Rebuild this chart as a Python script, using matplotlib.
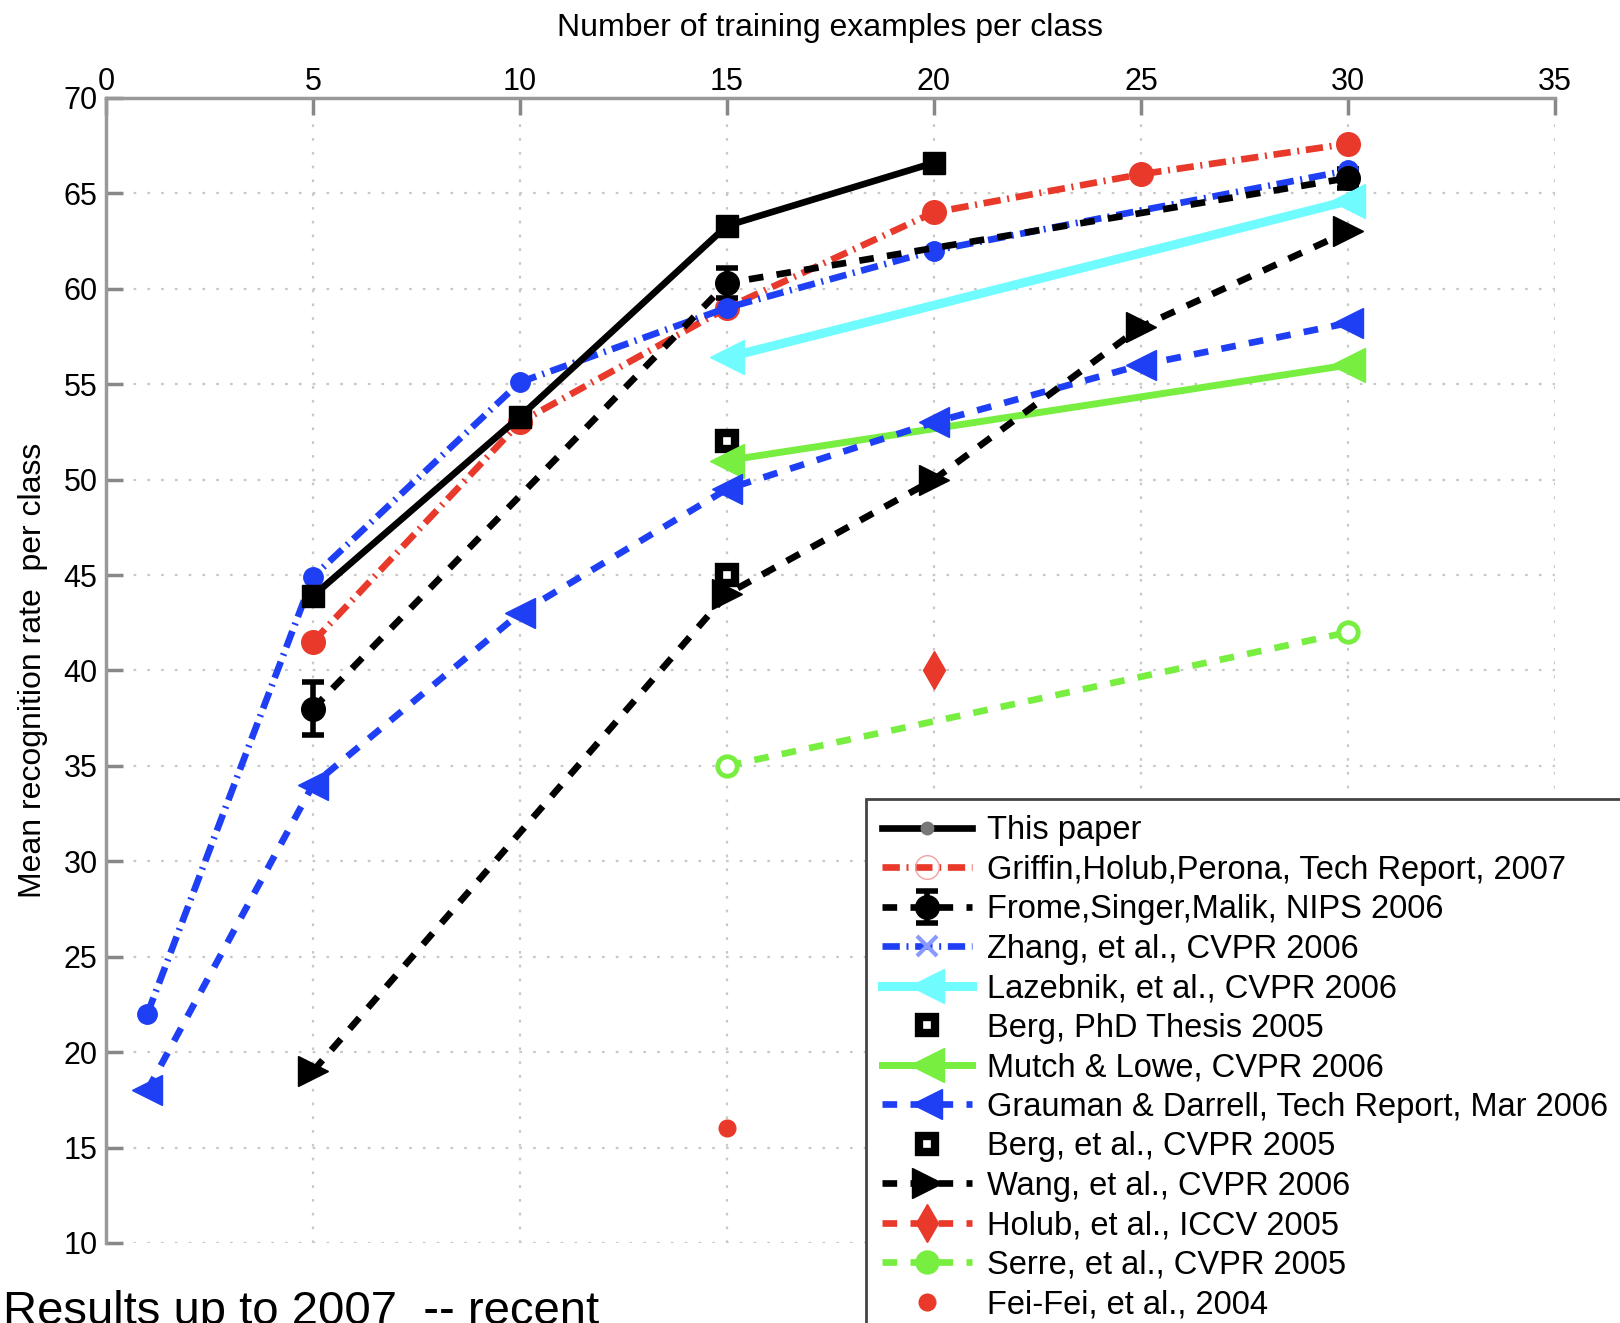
import matplotlib
matplotlib.use('Agg')
import matplotlib.pyplot as plt

plt.rcParams['font.family'] = ['Liberation Sans', 'DejaVu Sans']

# values (x = training examples per class, y = mean recognition rate)
this_x = [5, 10, 15, 20]
this_y = [43.9, 53.3, 63.3, 66.6]
griffin_x = [5, 10, 15, 20, 25, 30]
griffin_y = [41.5, 53.0, 59.0, 64.0, 66.0, 67.6]
frome_x = [5, 15, 30]
frome_y = [38.0, 60.3, 65.8]
frome_err = [1.4, 0.8, 0.5]
zhang_x = [1, 5, 10, 15, 20, 30]
zhang_y = [22.0, 44.9, 55.1, 59.0, 62.0, 66.2]
lazebnik_x = [15, 30]
lazebnik_y = [56.4, 64.6]
berg_phd_x = [15]
berg_phd_y = [52.0]
mutch_x = [15, 30]
mutch_y = [51.0, 56.0]
grauman_x = [1, 5, 10, 15, 20, 25, 30]
grauman_y = [18.0, 34.0, 43.0, 49.5, 53.0, 56.0, 58.2]
berg_cvpr_x = [15]
berg_cvpr_y = [45.0]
wang_x = [5, 15, 20, 25, 30]
wang_y = [19.0, 44.0, 50.0, 58.0, 63.0]
holub_x = [20]
holub_y = [40.0]
serre_x = [15, 30]
serre_y = [35.0, 42.0]
feifei_x = [15]
feifei_y = [16.0]

labels = ['This paper',
          'Griffin,Holub,Perona, Tech Report, 2007',
          'Frome,Singer,Malik, NIPS 2006',
          'Zhang, et al., CVPR 2006',
          'Lazebnik, et al., CVPR 2006',
          'Berg, PhD Thesis 2005',
          'Mutch & Lowe, CVPR 2006',
          'Grauman & Darrell, Tech Report, Mar 2006',
          'Berg, et al., CVPR 2005',
          'Wang, et al., CVPR 2006',
          'Holub, et al., ICCV 2005',
          'Serre, et al., CVPR 2005',
          'Fei-Fei, et al., 2004']

red = '#e8392a'
blue = '#1f3ff5'
cyan = '#70fbff'
green = '#78ee40'
dash = (2.2, 2.0)
dashdot = (2.6, 1.0, 0.3, 1.0)

fig = plt.figure(figsize=(16.2, 13.23), dpi=100)
ax = fig.add_axes([0.0654, 0.0605, 0.8944, 0.8655])

h = []
h.append(ax.plot(this_x, this_y, color='black', lw=4.8, marker='s', ms=16, zorder=5)[0])
h.append(ax.plot(griffin_x, griffin_y, color=red, lw=4.8, dashes=dashdot, marker='o', ms=17)[0])
eb = ax.errorbar(frome_x, frome_y, yerr=frome_err, color='black', lw=4.8, dashes=dash,
                 marker='o', ms=17, elinewidth=4, capsize=8, capthick=4)
eb[2][0].set_linestyle('-')
h.append(eb)
h.append(ax.plot(zhang_x, zhang_y, color=blue, lw=4.8, dashes=dashdot, marker='o', ms=14)[0])
h.append(ax.plot(lazebnik_x, lazebnik_y, color=cyan, lw=6.5, marker='<', ms=25)[0])
h.append(ax.plot(berg_phd_x, berg_phd_y, ls='none', marker='s', ms=11, mew=6,
                 mec='black', mfc='white')[0])
h.append(ax.plot(mutch_x, mutch_y, color=green, lw=5, marker='<', ms=24)[0])
h.append(ax.plot(grauman_x, grauman_y, color=blue, lw=4.8, dashes=dash, marker='<', ms=21)[0])
h.append(ax.plot(berg_cvpr_x, berg_cvpr_y, ls='none', marker='s', ms=11, mew=6,
                 mec='black', mfc='white')[0])
h.append(ax.plot(wang_x, wang_y, color='black', lw=4.8, dashes=dash, marker='>', ms=21)[0])
h.append(ax.plot(holub_x, holub_y, color=red, lw=4.8, dashes=dash, marker='d', ms=19)[0])
h.append(ax.plot(serre_x, serre_y, color=green, lw=4.8, dashes=dash, marker='o', ms=14,
                 mew=3.5, mfc='white')[0])
h.append(ax.plot(feifei_x, feifei_y, ls='none', color=red, marker='o', ms=12)[0])

ax.set_xlim(0, 35)
ax.set_ylim(10, 70)
ax.set_xticks(range(0, 36, 5))
ax.set_yticks(range(10, 71, 5))
ax.xaxis.tick_top()
ax.xaxis.set_label_position('top')
ax.set_xlabel('Number of training examples per class', fontsize=23, labelpad=22)
ax.set_ylabel('Mean recognition rate  per class', fontsize=23, labelpad=11)
ax.tick_params(axis='both', direction='in', length=12, width=2.5, color='#888888',
               labelsize=22)
ax.tick_params(axis='x', pad=1)
ax.tick_params(axis='y', pad=6)
ax.grid(True, color='#c8c8c8', lw=1.6, ls=(0, (1.2, 5)))
ax.set_axisbelow(True)
for side in ['right', 'bottom']:
    ax.spines[side].set_visible(False)
for side in ['top', 'left']:
    ax.spines[side].set_color('#999999')
    ax.spines[side].set_linewidth(2.5)

leg = ax.legend(h, labels, loc='upper left', bbox_to_anchor=(0.5346, 0.396),
                bbox_transform=fig.transFigure, borderaxespad=0, fontsize=23.5,
                handlelength=2.75, handletextpad=0.45, labelspacing=0.26,
                borderpad=0.5, fancybox=False, framealpha=1, edgecolor='#444444')
leg.get_frame().set_linewidth(2)
lh = leg.legend_handles
lh[0].set_marker('o')
lh[0].set_markersize(9)
lh[0].set_markerfacecolor('#777777')
lh[0].set_markeredgecolor('#777777')
lh[1].set_markerfacecolor('none')
lh[1].set_markeredgecolor('#f4a0a0')
lh[3].set_marker('x')
lh[3].set_markeredgecolor('#8899ff')
lh[3].set_markeredgewidth(3)
lh[11].set_markerfacecolor(green)

fig.text(0.002, -0.001, 'Results up to 2007  -- recent', fontsize=34, va='baseline')

fig.savefig('out.png', dpi=100)
